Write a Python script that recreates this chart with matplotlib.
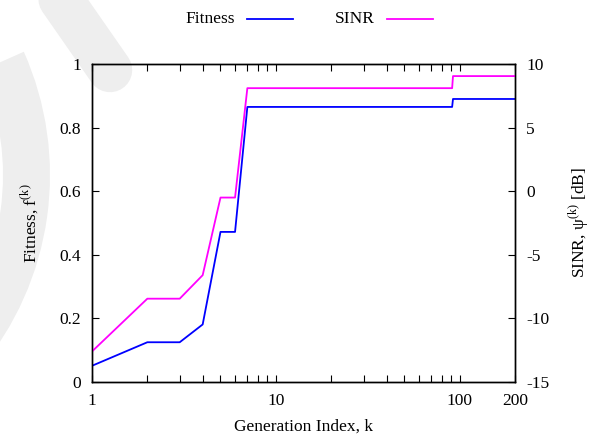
import matplotlib
matplotlib.use('Agg')
import matplotlib.pyplot as plt
from matplotlib.patches import Wedge
from matplotlib.lines import Line2D
from matplotlib.ticker import FixedLocator, NullFormatter

plt.rcParams['font.family'] = ['Liberation Serif', 'DejaVu Serif']
plt.rcParams['mathtext.fontset'] = 'custom'
plt.rcParams['mathtext.rm'] = 'Liberation Serif'
plt.rcParams['font.size'] = 12.5
plt.rcParams['axes.unicode_minus'] = False

# data
gen = [1, 2, 3, 4, 5, 6, 7, 91, 92, 200]
fitness = [0.051, 0.125, 0.125, 0.181, 0.472, 0.472, 0.865, 0.865, 0.89, 0.89]
sinr_db = [-12.6, -8.45, -8.45, -6.6, -0.5, -0.5, 8.1, 8.1, 9.05, 9.05]

x_ticks = [1, 10, 100, 200]
x_labels = ['1', '10', '100', '200']
y_ticks = [0, 0.2, 0.4, 0.6, 0.8, 1]
y_labels = ['0', '0.2', '0.4', '0.6', '0.8', '1']
y2_ticks = [-15, -10, -5, 0, 5, 10]
series_names = ['Fitness', 'SINR']
colors = ['#0000ff', '#ff00ff']

fig = plt.figure(figsize=(5.91, 4.40), dpi=100)
fig.patch.set_facecolor('white')

# faint watermark + key, drawn in pixel coords (y up)
bg = fig.add_axes([0, 0, 1, 1])
bg.set_xlim(0, 591)
bg.set_ylim(0, 440)
bg.axis('off')
wm = '#eeeeee'
bg.add_patch(Wedge((-253, 265), 303, -40, 24, width=47, color=wm, lw=0))
bg.add_line(Line2D([46, 110], [462, 370], color=wm, lw=32, solid_capstyle='round'))
bg.set_zorder(0)

# key across the top, text first then the line sample
for name, c, xt, xl in zip(series_names, colors, [235, 375], [247, 387]):
    bg.text(xt, 421, name, ha='right', va='center')
    bg.add_line(Line2D([xl, xl + 46], [421, 421], color=c, lw=1.3))

ax = fig.add_axes([92/591, 58/440, 423/591, 318/440])
ax.set_zorder(1)
ax.patch.set_visible(False)
ax.set_xscale('log')
ax.plot(gen, fitness, color=colors[0], lw=1.3)
ax.set_xlim(1, 200)
ax.set_ylim(0, 1)

minors = [m * d for d in (1, 10) for m in range(2, 10)]
ax.xaxis.set_major_locator(FixedLocator(x_ticks))
ax.xaxis.set_minor_locator(FixedLocator(minors))
ax.set_xticklabels(x_labels)
ax.xaxis.set_minor_formatter(NullFormatter())
ax.set_yticks(y_ticks)
ax.set_yticklabels(y_labels)
ax.tick_params(axis='x', which='both', direction='in', length=5, width=0.8,
               top=True, pad=8)
ax.tick_params(axis='y', direction='in', length=5, width=0.8, pad=8)

ax2 = ax.twinx()
ax2.set_zorder(2)
ax2.plot(gen, sinr_db, color=colors[1], lw=1.3)
ax2.set_ylim(-15, 10)
ax2.set_yticks(y2_ticks)
ax2.tick_params(axis='y', direction='in', length=5, width=0.8, pad=8)

for a in (ax, ax2):
    for s in a.spines.values():
        s.set_linewidth(1.0)

ax.set_xlabel('Generation Index, k', labelpad=7)
ax.set_ylabel(r'Fitness, f$^{\mathrm{(k)}}$', labelpad=13)
ax2.set_ylabel(r'SINR, ψ$^{\mathrm{(k)}}$ [dB]', labelpad=12)

fig.savefig('out.png', dpi=100)
